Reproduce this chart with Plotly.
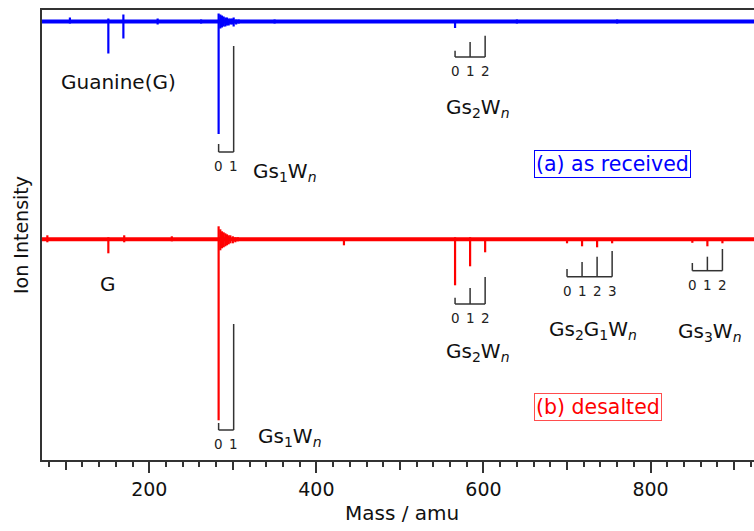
import plotly.graph_objects as go

# ---------------- data ----------------
# x axis: mass (amu); intensities in arbitrary units (downward-pointing peaks)
x_range = [71.6, 923.8]

# (a) as received (blue) - peak masses, downward depth, upward excursion
blue_mass = [105, 151, 169, 210, 262, 283, 285, 287, 289, 291, 293, 295, 297, 299, 301, 304, 307,
             350, 566, 640, 760]
blue_depth = [2, 32, 17, 3, 2, 112.5, 7, 6, 5, 5, 4, 4, 3, 3, 5, 3, 2,
              2, 6.5, 2, 2]
blue_rise = [4, 3, 7, 3, 2, 8, 7, 6, 5, 4, 4, 3, 3, 3, 4, 2, 2,
             2, 1, 2, 2]

# (b) desalted (red)
red_mass = [78, 151, 170, 227, 283, 285, 287, 289, 291, 293, 295, 297, 300, 303, 306, 433,
            566, 584, 602, 700, 718, 736, 754, 850, 868, 886]
red_depth = [3, 14, 3, 2, 181, 11, 9, 8, 7, 6, 5, 4, 4, 3, 2, 6,
             46, 27, 13, 4, 7, 8, 4, 3.5, 7, 4]
red_rise = [4, 2, 4, 3, 13, 10, 8, 7, 6, 5, 4, 4, 3, 2, 2, 1,
            2, 2, 1, 1, 1, 1, 1, 1, 1, 1]

# cluster ladders (mass of each n), bracket base level and tick tops
ladders = [
    ([283, 301], 308, [316, 414]),
    ([566, 584, 602], 403, [409.3, 418, 424.3]),
    ([283, 301], 30, [37, 136]),
    ([566, 584, 602], 156, [162.3, 172, 183]),
    ([700, 718, 736, 754], 183.3, [191, 198, 203.3, 209]),
    ([850, 868, 886], 189.3, [197, 203.3, 211]),
]

major_ticks = [200, 400, 600, 800]

# ---------------- figure ----------------
BLUE_BASE = 438.5
RED_BASE = 220.7
FONT = "DejaVu Sans"
TXT = "#111111"

fig = go.Figure()

def add_spectrum(masses, depth, rise, base, color):
    fig.add_trace(go.Scatter(x=x_range, y=[base, base], mode="lines",
                             line=dict(color=color, width=4), hoverinfo="skip"))
    xs, ys = [], []
    for m, d, r in zip(masses, depth, rise):
        xs += [m, m, None]
        ys += [base + r, base - d, None]
    fig.add_trace(go.Scatter(x=xs, y=ys, mode="lines",
                             line=dict(color=color, width=2.2), hoverinfo="skip"))

add_spectrum(blue_mass, blue_depth, blue_rise, BLUE_BASE, "#0000ff")
add_spectrum(red_mass, red_depth, red_rise, RED_BASE, "#ff0000")

annotations = []
for masses, bottom, tops in ladders:
    fig.add_trace(go.Scatter(x=[masses[0], masses[-1]], y=[bottom, bottom], mode="lines",
                             line=dict(color="#333333", width=1.5), hoverinfo="skip"))
    vx, vy = [], []
    for m, t in zip(masses, tops):
        vx += [m, m, None]
        vy += [bottom, t, None]
    fig.add_trace(go.Scatter(x=vx, y=vy, mode="lines",
                             line=dict(color="#333333", width=1.5), hoverinfo="skip"))
    for i, m in enumerate(masses):
        annotations.append(dict(x=m, y=bottom, yshift=-14, text=str(i), showarrow=False,
                                font=dict(size=13.5, color="#222222", family=FONT),
                                xanchor="center", yanchor="middle"))

labels = [
    (163.7, 378, "Guanine(G)"),
    (362, 288, "Gs<sub>1</sub>W<sub><i>n</i></sub>"),
    (593, 352, "Gs<sub>2</sub>W<sub><i>n</i></sub>"),
    (150.6, 176, "G"),
    (368, 23, "Gs<sub>1</sub>W<sub><i>n</i></sub>"),
    (593, 108, "Gs<sub>2</sub>W<sub><i>n</i></sub>"),
    (731, 130, "Gs<sub>2</sub>G<sub>1</sub>W<sub><i>n</i></sub>"),
    (871, 128, "Gs<sub>3</sub>W<sub><i>n</i></sub>"),
]
for x, y, t in labels:
    annotations.append(dict(x=x, y=y, text=t, showarrow=False,
                            font=dict(size=20, color=TXT, family=FONT),
                            xanchor="center", yanchor="middle"))

annotations.append(dict(x=755, y=296.5, text="(a) as received", showarrow=False,
                        font=dict(size=20.5, color="#0000ff", family=FONT),
                        bordercolor="#0000ff", borderwidth=1, borderpad=1,
                        xanchor="center", yanchor="middle"))
annotations.append(dict(x=737, y=53, text="(b) desalted", showarrow=False,
                        font=dict(size=20.5, color="#ff0000", family=FONT),
                        bordercolor="#ff4d4d", borderwidth=1, borderpad=1,
                        xanchor="center", yanchor="middle"))

# axis titles
annotations.append(dict(xref="paper", yref="paper", x=-0.0295, y=0.5, text="Ion Intensity",
                        textangle=-90, showarrow=False,
                        font=dict(size=19, color=TXT, family=FONT),
                        xanchor="center", yanchor="middle"))
annotations.append(dict(xref="paper", yref="paper", x=0.5056, y=-0.1178, text="Mass / amu",
                        showarrow=False, font=dict(size=20, color=TXT, family=FONT),
                        xanchor="center", yanchor="middle"))

fig.update_layout(
    width=754, height=531,
    margin=dict(l=42, r=0, t=10, b=71),
    plot_bgcolor="white", paper_bgcolor="white",
    showlegend=False,
    annotations=annotations,
    xaxis=dict(range=x_range, showgrid=False, zeroline=False, automargin=False,
               showline=True, linecolor="#333333", linewidth=2, mirror=True,
               ticks="outside", dtick=100, tick0=0, ticklen=8, tickwidth=1.5,
               tickcolor="#333333", showticklabels=False,
               minor=dict(dtick=20, tick0=0, ticks="outside", ticklen=5,
                          tickwidth=1.5, tickcolor="#333333")),
    xaxis2=dict(range=x_range, overlaying="x", side="bottom", showgrid=False,
                zeroline=False, showline=False, ticks="outside", automargin=False,
                tickvals=major_ticks, ticklen=12, tickwidth=1.5, tickcolor="#333333",
                tickfont=dict(size=19, family=FONT, color=TXT)),
    yaxis=dict(range=[0, 450], showgrid=False, zeroline=False, showticklabels=False,
               showline=True, linecolor="#333333", linewidth=2, ticks="", automargin=False),
)
# invisible trace to activate xaxis2
fig.add_trace(go.Scatter(x=[x_range[0]], y=[-10], xaxis="x2", mode="markers",
                         marker=dict(opacity=0), hoverinfo="skip"))

fig.write_html("out.html", config={"displayModeBar": False},
               post_script="document.body.style.margin='0px';")
